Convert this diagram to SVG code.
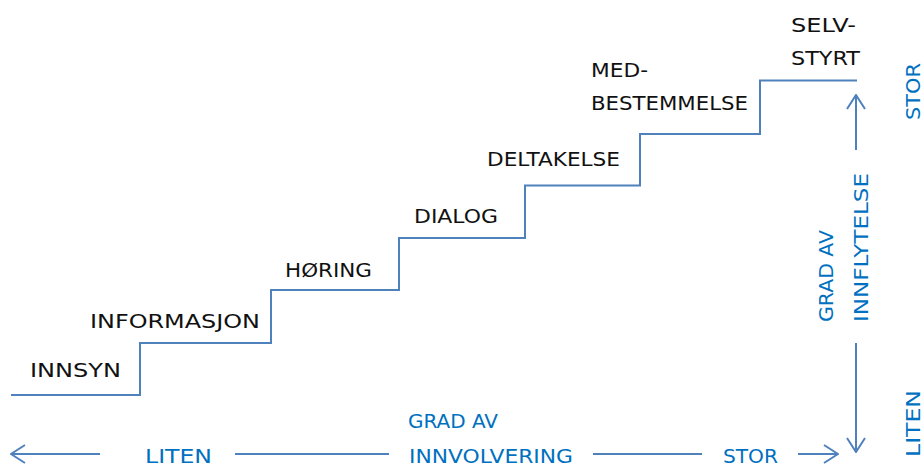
<svg xmlns="http://www.w3.org/2000/svg" width="924" height="467" viewBox="0 0 924 467">
  <style>
    .step { font-family: "Comic Sans MS", "DejaVu Sans", sans-serif; font-size: 20px; fill: #111111; }
    .axis { font-family: "Comic Sans MS", "DejaVu Sans", sans-serif; font-size: 20px; fill: #0070C0; }
    .line { fill: none; stroke: #4F81BD; stroke-width: 2; }
  </style>
  <defs>
    <marker id="head" viewBox="0 0 16 20" refX="15" refY="10" markerWidth="16" markerHeight="20" markerUnits="userSpaceOnUse" orient="auto">
      <path d="M1,1 L15,10 L1,19" fill="none" stroke="#4F81BD" stroke-width="2"/>
    </marker>
  </defs>

  <!-- staircase -->
  <g id="connectors">
    <path class="line" d="M11,395 H140 V343 H271 V290 H399 V238 H525 V185.5 H640 V134 H760 V80.5 H857"/>
    <!-- horizontal axis: involvement -->
    <line class="line" x1="100" y1="454" x2="11" y2="454" marker-end="url(#head)"/>
    <line class="line" x1="235" y1="454" x2="389" y2="454"/>
    <line class="line" x1="593" y1="454" x2="702" y2="454"/>
    <line class="line" x1="798" y1="454" x2="838" y2="454" marker-end="url(#head)"/>
    <!-- vertical axis: influence -->
    <line class="line" x1="856" y1="150" x2="856" y2="95" marker-end="url(#head)"/>
    <line class="line" x1="856" y1="343" x2="856" y2="452" marker-end="url(#head)"/>
  </g>

  <g id="innsyn"><text class="step" x="30" y="377" textLength="91" lengthAdjust="spacingAndGlyphs">INNSYN</text></g>
  <g id="informasjon"><text class="step" x="90" y="328" textLength="170" lengthAdjust="spacingAndGlyphs">INFORMASJON</text></g>
  <g id="horing"><text class="step" x="285" y="277" textLength="87" lengthAdjust="spacingAndGlyphs">HØRING</text></g>
  <g id="dialog"><text class="step" x="414" y="223" textLength="84" lengthAdjust="spacingAndGlyphs">DIALOG</text></g>
  <g id="deltakelse"><text class="step" x="487" y="166" textLength="133" lengthAdjust="spacingAndGlyphs">DELTAKELSE</text></g>
  <g id="medbestemmelse">
    <text class="step" x="591" y="77" textLength="57" lengthAdjust="spacingAndGlyphs">MED-</text>
    <text class="step" x="591" y="110" textLength="157" lengthAdjust="spacingAndGlyphs">BESTEMMELSE</text>
  </g>
  <g id="selvstyrt">
    <text class="step" x="791" y="32" textLength="65" lengthAdjust="spacingAndGlyphs">SELV-</text>
    <text class="step" x="791" y="65" textLength="69" lengthAdjust="spacingAndGlyphs">STYRT</text>
  </g>

  <g id="involvering-axis">
    <text class="axis" x="145" y="463" textLength="67" lengthAdjust="spacingAndGlyphs">LITEN</text>
    <text class="axis" x="408" y="428" textLength="90" lengthAdjust="spacingAndGlyphs">GRAD AV</text>
    <text class="axis" x="409" y="463" textLength="164" lengthAdjust="spacingAndGlyphs">INNVOLVERING</text>
    <text class="axis" x="723" y="463" textLength="55" lengthAdjust="spacingAndGlyphs">STOR</text>
  </g>

  <g id="innflytelse-axis">
    <text class="axis" transform="translate(833,322) rotate(-90)" textLength="92" lengthAdjust="spacingAndGlyphs">GRAD AV</text>
    <text class="axis" transform="translate(868,322) rotate(-90)" textLength="149" lengthAdjust="spacingAndGlyphs">INNFLYTELSE</text>
    <text class="axis" transform="translate(920,120) rotate(-90)" textLength="57" lengthAdjust="spacingAndGlyphs">STOR</text>
    <text class="axis" transform="translate(920,457) rotate(-90)" textLength="67" lengthAdjust="spacingAndGlyphs">LITEN</text>
  </g>
</svg>
